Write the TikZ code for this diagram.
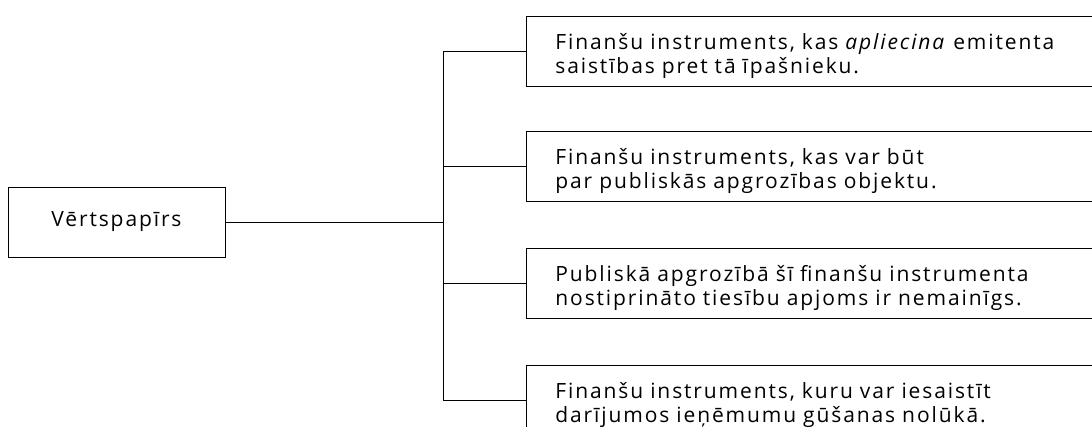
\documentclass[tikz,border=0pt]{standalone}
\usepackage{fontspec}
\setmainfont{Open Sans}[LetterSpace=9]
\usetikzlibrary{positioning}

\tikzset{
  term/.style={draw, rectangle, line width=0.8pt, minimum width=217pt, minimum height=70pt, inner sep=0pt},
  defbox/.style={draw, rectangle, line width=0.8pt, anchor=west, minimum width=600pt, minimum height=70pt,
                 text width=542pt, inner xsep=29pt, align=left,
                 execute at begin node={\rule{0pt}{26pt}}},
  link/.style={line width=0.8pt}
}

\begin{document}
\begin{tikzpicture}[x=1pt, y=-1pt, font=\fontsize{21}{24}\selectfont]
    \useasboundingbox (0,0) rectangle (1092,427);
    \clip (0,0) rectangle (1092,427);

    \node[term] (vp) at (116.5,222) {Vērtspapīrs};

    \node[defbox] (d1) at (526,51)  {Finanšu instruments, kas \textit{apliecina} emitenta\\saistības pret tā īpašnieku.};
    \node[defbox] (d2) at (526,166.5) {Finanšu instruments, kas var būt\\par publiskās apgrozības objektu.};
    \node[defbox] (d3) at (526,283) {Publiskā apgrozībā šī finanšu instrumenta\\nostiprināto tiesību apjoms ir nemainīgs.};
    \node[defbox] (d4) at (526,400) {Finanšu instruments, kuru var iesaistīt\\darījumos ieņēmumu gūšanas nolūkā.};

    % trunk and branches
    \draw[link] (vp.east) -- ++(218,0) coordinate (hub);
    \draw[link] (hub |- d1.west) -- (hub |- d4.west);
    \foreach \i in {1,...,4}
        \draw[link] (hub |- d\i.west) -- (d\i.west);
\end{tikzpicture}
\end{document}
